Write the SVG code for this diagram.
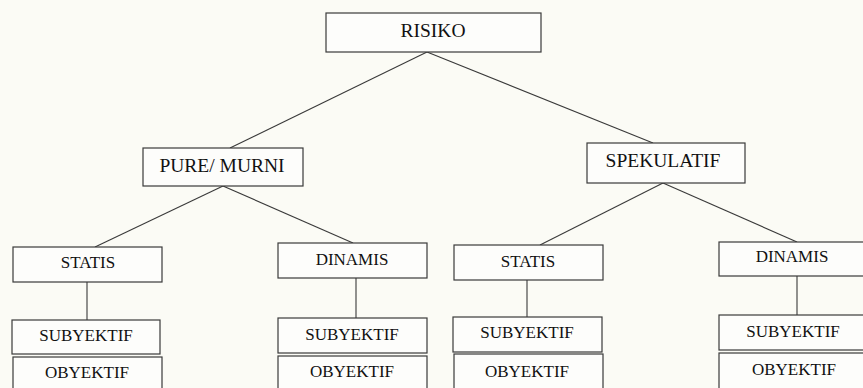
<svg xmlns="http://www.w3.org/2000/svg" width="863" height="388" viewBox="0 0 863 388">
<style>
.box{fill:#fdfdfb;stroke:#3a3a3a;stroke-width:1.2}
.ln{stroke:#3a3a3a;stroke-width:1.1;fill:none}
.t{fill:#111;text-anchor:middle}
.big{font-size:19.5px}
.sm{font-size:17px}
</style>
<rect x="0" y="0" width="863" height="388" fill="#fbfbf5"/>
<g id="connectors">
<line class="ln" x1="427" y1="52" x2="230" y2="148"/>
<line class="ln" x1="427" y1="52" x2="653" y2="143"/>
<line class="ln" x1="223" y1="186" x2="95" y2="247"/>
<line class="ln" x1="223" y1="186" x2="353" y2="243"/>
<line class="ln" x1="663" y1="183" x2="540" y2="245"/>
<line class="ln" x1="663" y1="183" x2="797" y2="242"/>
<line class="ln" x1="87" y1="282" x2="87" y2="320"/>
<line class="ln" x1="356" y1="278" x2="356" y2="318"/>
<line class="ln" x1="527" y1="280" x2="527" y2="317"/>
<line class="ln" x1="797" y1="276" x2="797" y2="315"/>
</g>
<g id="risiko"><rect class="box" x="326" y="13" width="215" height="39"/><text class="t big" font-family="Liberation Serif" x="433" y="37">RISIKO</text></g>
<g id="pure"><rect class="box" x="143" y="148" width="160" height="38"/><text class="t big" font-family="Liberation Serif" x="222" y="172">PURE/ MURNI</text></g>
<g id="spekulatif"><rect class="box" x="587" y="143" width="158" height="40"/><text class="t big" font-family="Liberation Serif" x="663" y="167">SPEKULATIF</text></g>
<g id="statis1"><rect class="box" x="13" y="247" width="149" height="35"/><text class="t sm" font-family="Liberation Serif" x="88" y="268">STATIS</text></g>
<g id="dinamis1"><rect class="box" x="278" y="243" width="149" height="35"/><text class="t sm" font-family="Liberation Serif" x="352" y="265">DINAMIS</text></g>
<g id="statis2"><rect class="box" x="454" y="245" width="149" height="35"/><text class="t sm" font-family="Liberation Serif" x="528" y="267">STATIS</text></g>
<g id="dinamis2"><rect class="box" x="719" y="242" width="150" height="34"/><text class="t sm" font-family="Liberation Serif" x="792" y="262">DINAMIS</text></g>
<g id="subyektif1"><rect class="box" x="12" y="320" width="148" height="34"/><text class="t sm" font-family="Liberation Serif" x="86" y="341">SUBYEKTIF</text></g>
<g id="obyektif1"><rect class="box" x="13" y="357" width="149" height="40"/><text class="t sm" font-family="Liberation Serif" x="87" y="378">OBYEKTIF</text></g>
<g id="subyektif2"><rect class="box" x="278" y="318" width="149" height="35"/><text class="t sm" font-family="Liberation Serif" x="352" y="340">SUBYEKTIF</text></g>
<g id="obyektif2"><rect class="box" x="278" y="356" width="149" height="40"/><text class="t sm" font-family="Liberation Serif" x="352" y="377">OBYEKTIF</text></g>
<g id="subyektif3"><rect class="box" x="453" y="317" width="149" height="35"/><text class="t sm" font-family="Liberation Serif" x="527" y="338">SUBYEKTIF</text></g>
<g id="obyektif3"><rect class="box" x="454" y="354" width="149" height="42"/><text class="t sm" font-family="Liberation Serif" x="527" y="377">OBYEKTIF</text></g>
<g id="subyektif4"><rect class="box" x="719" y="315" width="150" height="35"/><text class="t sm" font-family="Liberation Serif" x="793" y="337">SUBYEKTIF</text></g>
<g id="obyektif4"><rect class="box" x="719" y="353" width="150" height="42"/><text class="t sm" font-family="Liberation Serif" x="794" y="375">OBYEKTIF</text></g>
</svg>
